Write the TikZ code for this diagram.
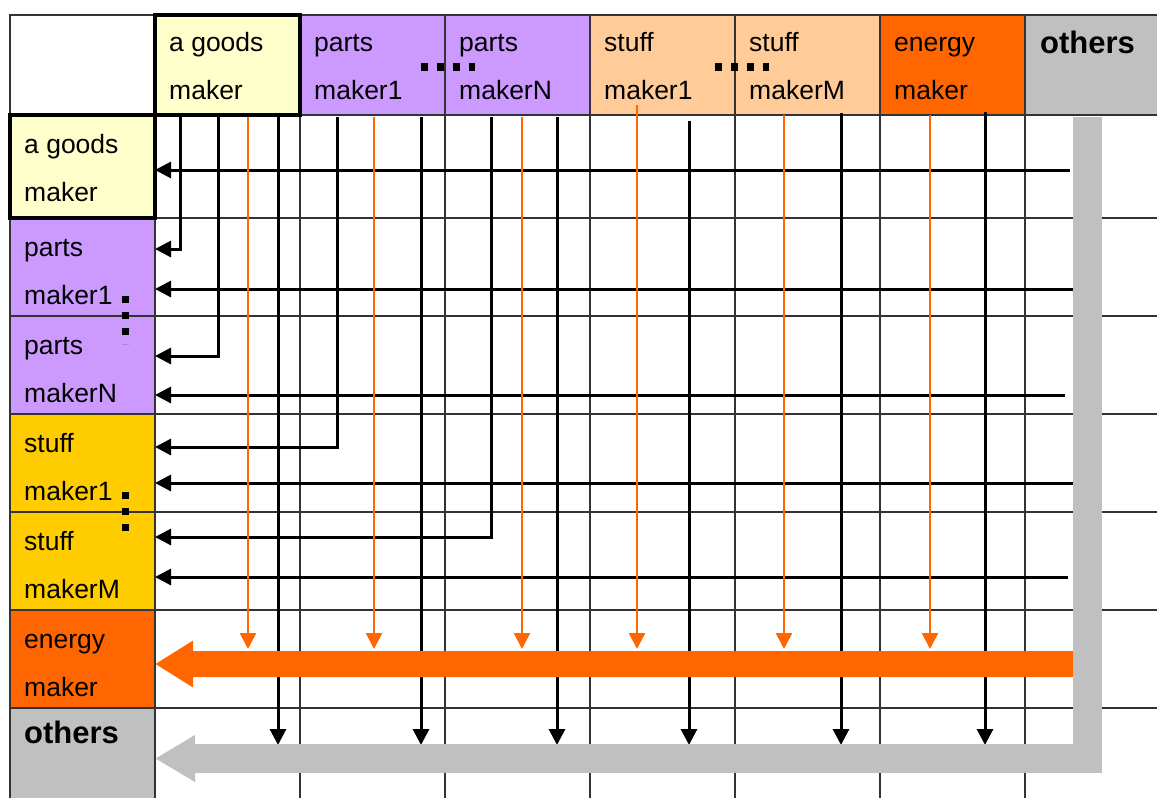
\documentclass[tikz,border=0pt]{standalone}
\usepackage{fontspec}
\setmainfont{Liberation Sans}
\usetikzlibrary{positioning,arrows.meta}

\definecolor{goodsyellow}{HTML}{FFFFCC}
\definecolor{partspurple}{HTML}{CC99FF}
\definecolor{stuffpeach}{HTML}{FFCC99}
\definecolor{stuffgold}{HTML}{FFCC00}
\definecolor{energyorange}{HTML}{FF6600}
\definecolor{othersgray}{HTML}{C0C0C0}
\definecolor{gridgray}{HTML}{333333}

\newcommand{\twoline}[2]{\parbox[t]{125pt}{\fontsize{26.5pt}{48pt}\selectfont #1\\#2}}

\begin{document}
\begin{tikzpicture}[x=1pt, y=-1pt,
    cell/.style={draw=gridgray, line width=1.4pt, inner sep=0pt, outer sep=0pt,
                 minimum width=145pt, minimum height=98pt},
    headcell/.style={cell, minimum height=100pt},
    lbl/.style={anchor=base west, inner sep=0pt},
    boldlbl/.style={lbl, font=\fontsize{31pt}{36pt}\selectfont\bfseries},
    gridline/.style={draw=gridgray, line width=1.4pt},
    flow/.style={line width=3pt, -{Triangle[length=16pt, width=16pt]}},
    fuel/.style={energyorange, line width=2.4pt, -{Triangle[length=16pt, width=16pt]}},
    energyflow/.style={energyorange, line width=26pt, -{Triangle[length=38pt, width=44pt]}},
    othersflow/.style={othersgray, line width=29pt, line join=miter, -{Triangle[length=40pt, width=44pt]}},
    dots/.style={line width=7.5pt, dash pattern=on 7pt off 9pt}
]
    \useasboundingbox (0,0) rectangle (1157,798);
    \clip (0,0) rectangle (1157,798);

    % header row
    \node[headcell, anchor=north west] (corner) at (10,15) {};
    \node[headcell, fill=goodsyellow, right=0pt of corner] (hGoods) {};
    \node[headcell, fill=partspurple, right=0pt of hGoods] (hParts1) {};
    \node[headcell, fill=partspurple, right=0pt of hParts1] (hPartsN) {};
    \node[headcell, fill=stuffpeach, right=0pt of hPartsN] (hStuff1) {};
    \node[headcell, fill=stuffpeach, right=0pt of hStuff1] (hStuffM) {};
    \node[headcell, fill=energyorange, right=0pt of hStuffM] (hEnergy) {};
    \node[headcell, fill=othersgray, right=0pt of hEnergy] (hOthers) {};

    % first column
    \node[cell, minimum height=103pt, fill=goodsyellow, below=0pt of corner] (rGoods) {};
    \node[cell, fill=partspurple, below=0pt of rGoods] (rParts1) {};
    \node[cell, fill=partspurple, below=0pt of rParts1] (rPartsN) {};
    \node[cell, fill=stuffgold, below=0pt of rPartsN] (rStuff1) {};
    \node[cell, fill=stuffgold, below=0pt of rStuff1] (rStuffM) {};
    \node[cell, fill=energyorange, below=0pt of rStuffM] (rEnergy) {};
    \node[cell, fill=othersgray, below=0pt of rEnergy] (rOthers) {};

    % body grid
    \foreach \c in {hGoods,hParts1,hPartsN,hStuff1,hStuffM,hEnergy}
        \draw[gridline] (\c.south east) -- (\c.south east |- rOthers.south);
    \foreach \r in {rGoods,rParts1,rPartsN,rStuff1,rStuffM,rEnergy}
        \draw[gridline] (\r.south east) -- (\r.south east -| hOthers.east);

    % the goods maker is framed
    \draw[line width=4pt] (hGoods.north west) rectangle (hGoods.south east);
    \draw[line width=4pt] (rGoods.north west) rectangle (rGoods.south east);

    % names
    \node[lbl] (tGoodsH) at ([shift={(14,36)}]hGoods.north west) {\twoline{a goods}{maker}};
    \node[lbl] (tParts1H) at ([shift={(14,36)}]hParts1.north west) {\twoline{parts}{maker1}};
    \node[lbl] (tPartsNH) at ([shift={(14,36)}]hPartsN.north west) {\twoline{parts}{makerN}};
    \node[lbl] (tStuff1H) at ([shift={(14,36)}]hStuff1.north west) {\twoline{stuff}{maker1}};
    \node[lbl] (tStuffMH) at ([shift={(14,36)}]hStuffM.north west) {\twoline{stuff}{makerM}};
    \node[lbl] (tEnergyH) at ([shift={(14,36)}]hEnergy.north west) {\twoline{energy}{maker}};
    \node[boldlbl] (tOthersH) at ([shift={(15,38)}]hOthers.north west) {others};

    \node[lbl] (tGoodsR) at ([shift={(14,38)}]rGoods.north west) {\twoline{a goods}{maker}};
    \node[lbl] (tParts1R) at ([shift={(14,38)}]rParts1.north west) {\twoline{parts}{maker1}};
    \node[lbl] (tPartsNR) at ([shift={(14,38)}]rPartsN.north west) {\twoline{parts}{makerN}};
    \node[lbl] (tStuff1R) at ([shift={(14,38)}]rStuff1.north west) {\twoline{stuff}{maker1}};
    \node[lbl] (tStuffMR) at ([shift={(14,38)}]rStuffM.north west) {\twoline{stuff}{makerM}};
    \node[lbl] (tEnergyR) at ([shift={(14,38)}]rEnergy.north west) {\twoline{energy}{maker}};
    \node[boldlbl] (tOthersR) at ([shift={(14,35)}]rOthers.north west) {others};

    % the dots between maker1 and makerN
    \draw[dots] (421,67) -- (475,67);
    \draw[dots] (715,67) -- (769,67);
    \draw[dots] (125.5,296) -- (125.5,344);
    \draw[dots] (125.5,492) -- (125.5,540);

    % goods out of each maker
    \coordinate (outGoodsA) at (180,117);
    \coordinate (outGoodsB) at (218,117);
    \coordinate (outParts1) at (337,117);
    \coordinate (outPartsN) at (491,117);
    \draw[flow] (outGoodsA) |- (rParts1.east |- 0,249);
    \draw[flow] (outGoodsB) |- (rPartsN.east |- 0,356);
    \draw[flow] (outParts1) |- (rStuff1.east |- 0,447);
    \draw[flow] (outPartsN) |- (rStuffM.east |- 0,537);

    % goods into each maker from the others
    \coordinate (inGoods) at (1070,170);
    \coordinate (inParts1) at (1075,289);
    \coordinate (inPartsN) at (1065,395);
    \coordinate (inStuff1) at (1075,483);
    \coordinate (inStuffM) at (1068,577);
    \draw[flow] (inGoods) -- (rGoods.east |- inGoods);
    \draw[flow] (inParts1) -- (rParts1.east |- inParts1);
    \draw[flow] (inPartsN) -- (rPartsN.east |- inPartsN);
    \draw[flow] (inStuff1) -- (rStuff1.east |- inStuff1);
    \draw[flow] (inStuffM) -- (rStuffM.east |- inStuffM);

    % energy used by each maker
    \coordinate (fuelTip) at (0,649);
    \coordinate (useGoods) at (248,117);
    \coordinate (useParts1) at (374,117);
    \coordinate (usePartsN) at (522,117);
    \coordinate (useStuff1) at (637,105);
    \coordinate (useStuffM) at (784,115);
    \coordinate (useEnergy) at (930,115);
    \draw[fuel] (useGoods) -- (useGoods |- fuelTip);
    \draw[fuel] (useParts1) -- (useParts1 |- fuelTip);
    \draw[fuel] (usePartsN) -- (usePartsN |- fuelTip);
    \draw[fuel] (useStuff1) -- (useStuff1 |- fuelTip);
    \draw[fuel] (useStuffM) -- (useStuffM |- fuelTip);
    \draw[fuel] (useEnergy) -- (useEnergy |- fuelTip);

    % output to the others
    \coordinate (outTip) at (0,745);
    \coordinate (toGoods) at (278,117);
    \coordinate (toParts1) at (421,117);
    \coordinate (toPartsN) at (557,117);
    \coordinate (toStuff1) at (689,121);
    \coordinate (toStuffM) at (841,113);
    \coordinate (toEnergy) at (985,112);
    \draw[flow] (toGoods) -- (toGoods |- outTip);
    \draw[flow] (toParts1) -- (toParts1 |- outTip);
    \draw[flow] (toPartsN) -- (toPartsN |- outTip);
    \draw[flow] (toStuff1) -- (toStuff1 |- outTip);
    \draw[flow] (toStuffM) -- (toStuffM |- outTip);
    \draw[flow] (toEnergy) -- (toEnergy |- outTip);

    % big flows
    \coordinate (energyIn) at (1073,664);
    \draw[energyflow] (energyIn) -- (rEnergy.east |- energyIn);
    \coordinate (othersIn) at (1087.5,117);
    \draw[othersflow] (othersIn) |- (rOthers.east |- 0,758.5);
\end{tikzpicture}
\end{document}
